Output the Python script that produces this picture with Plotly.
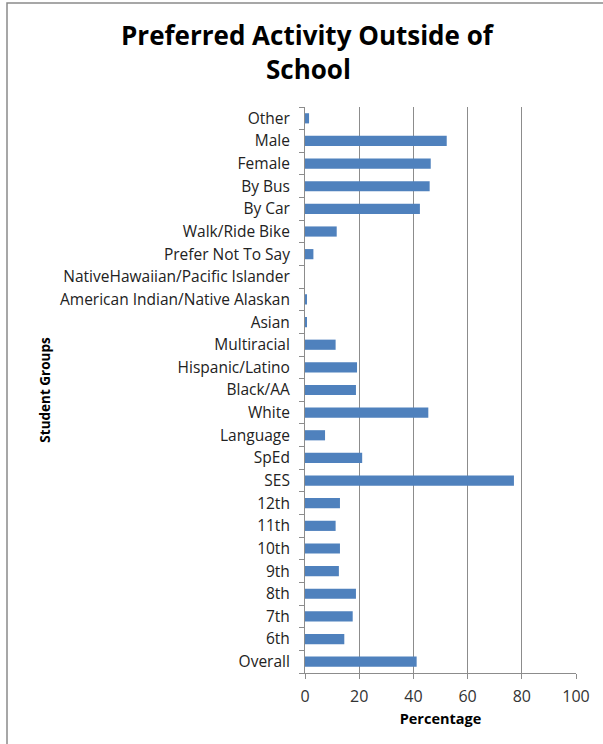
import plotly.graph_objects as go

categories = [
    "Overall", "6th", "7th", "8th", "9th", "10th", "11th", "12th",
    "SES", "SpEd", "Language", "White", "Black/AA", "Hispanic/Latino",
    "Multiracial", "Asian", "American Indian/Native Alaskan",
    "NativeHawaiian/Pacific Islander", "Prefer Not To Say", "Walk/Ride Bike",
    "By Car", "By Bus", "Female", "Male", "Other",
]
values = [
    41.2, 14.5, 17.6, 18.8, 12.5, 12.9, 11.3, 12.9,
    77.1, 21.1, 7.4, 45.5, 18.8, 19.2,
    11.3, 0.6, 0.5,
    0.0, 3.1, 11.7,
    42.4, 46.0, 46.4, 52.3, 1.5,
]
x_ticks = [0, 20, 40, 60, 80, 100]
title_lines = ["Preferred Activity Outside of", "School"]

W, H = 603, 744
L, R, T, B = 305, 27, 107, 71
pw, ph = W - L - R, H - T - B

def px_x(p):
    return (p - L) / pw

def px_y(p):
    return (H - B - p) / ph

FONT = "Open Sans"

fig = go.Figure(go.Bar(
    x=values, y=categories, orientation="h",
    marker=dict(color="#4F81BD", line=dict(width=0)),
))

fig.update_layout(
    width=W, height=H,
    margin=dict(l=L, r=R, t=T, b=B),
    paper_bgcolor="white", plot_bgcolor="white",
    bargap=0.55,
    showlegend=False,
    font=dict(family=FONT, color="#000000"),
    xaxis=dict(
        range=[0, 100], tickvals=x_ticks,
        showgrid=True, gridcolor="#8C8C8C", gridwidth=1,
        showline=True, linecolor="#8C8C8C", linewidth=1,
        ticks="outside", ticklen=5, tickcolor="#8C8C8C",
        tickfont=dict(family=FONT, size=16, color="#333333"),
        ticklabelstandoff=4,
        title=dict(text="<b>Percentage</b>", font=dict(family=FONT, size=14.5, color="#000000"), standoff=7),
        zeroline=False, fixedrange=True,
    ),
    yaxis=dict(
        type="category", categoryorder="array", categoryarray=categories,
        tickson="boundaries",
        showgrid=False,
        showline=True, linecolor="#8C8C8C", linewidth=1,
        ticks="outside", ticklen=5, tickcolor="#8C8C8C",
        tickfont=dict(family=FONT, size=15.5, color="#222222"),
        ticklabelstandoff=11,
        title=dict(text="<b>Student Groups</b>", font=dict(family=FONT, size=13.5, color="#000000"), standoff=6),
        fixedrange=True,
    ),
)

# chart title (two centred lines)
for line, cy in zip(title_lines, [35, 69]):
    fig.add_annotation(
        text="<b>%s</b>" % line, xref="paper", yref="paper",
        x=px_x(308), y=px_y(cy), xanchor="center", yanchor="middle",
        showarrow=False, font=dict(family=FONT, size=26, color="#000000"),
    )

# outer chart border (Excel chart area frame), extends beyond the cropped picture
fig.add_shape(
    type="rect", xref="paper", yref="paper",
    x0=px_x(7), x1=px_x(W + 20), y0=px_y(H + 20), y1=px_y(3),
    line=dict(color="#8A8A8A", width=1.5), fillcolor="rgba(0,0,0,0)", layer="below",
)

fig.write_html("out.html")
